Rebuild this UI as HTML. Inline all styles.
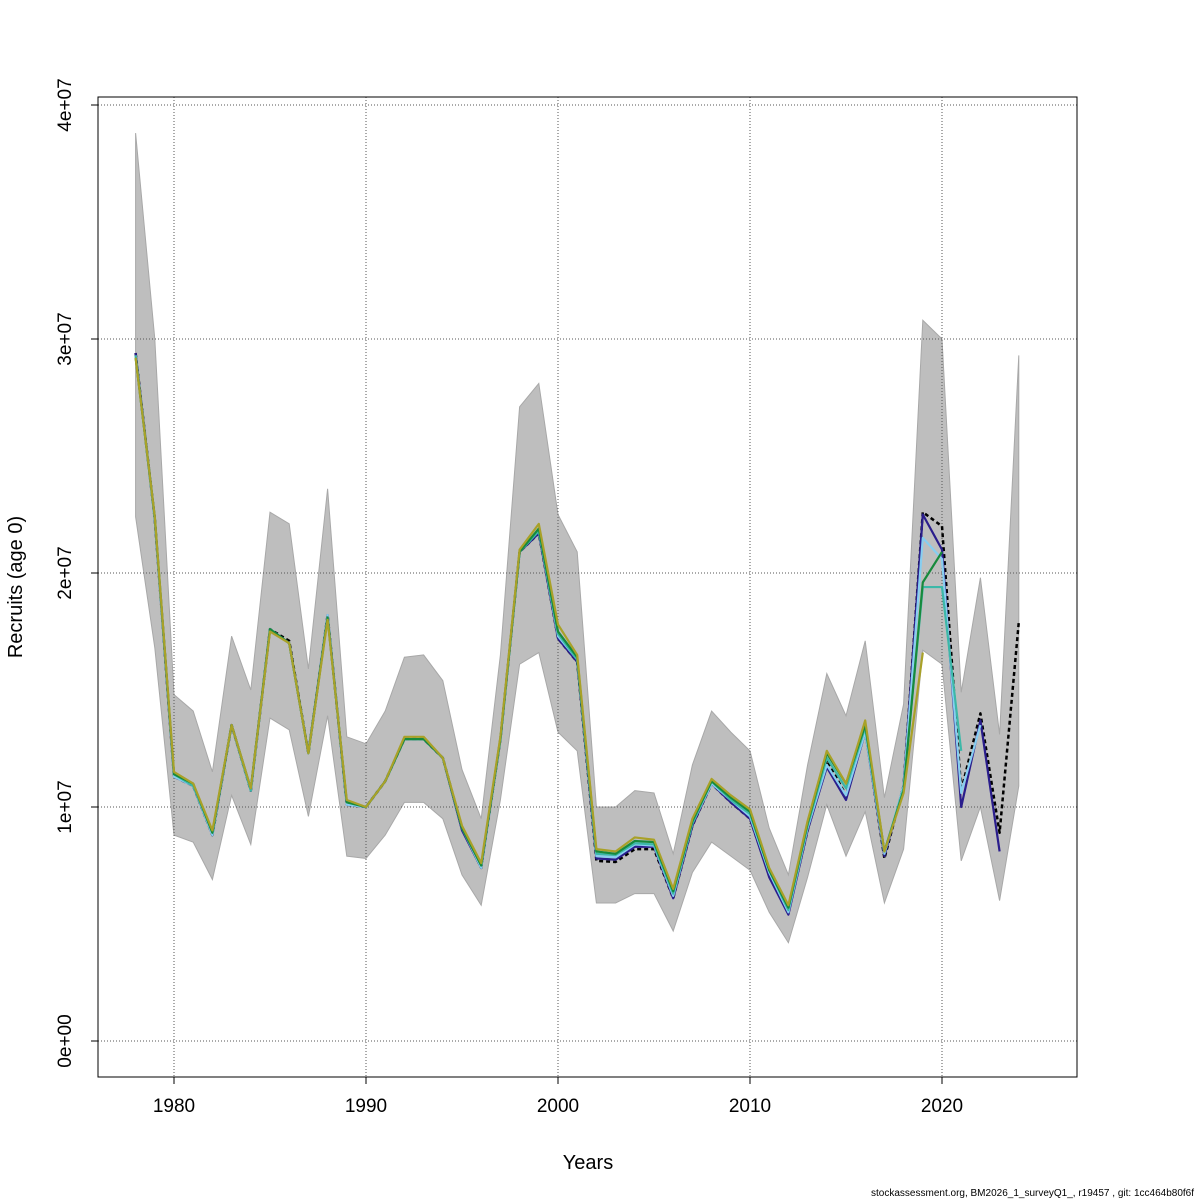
<!DOCTYPE html>
<html><head><meta charset="utf-8"><style>
body{margin:0;background:#fff;}
svg{display:block;font-family:"Liberation Sans",sans-serif;}
</style></head><body>
<svg id="chart" width="1200" height="1200" viewBox="0 0 1200 1200">
<rect x="0" y="0" width="1200" height="1200" fill="#fff"/>
<g id="band"></g>
<g id="grid"></g>
<g id="lines"></g>
<rect x="98" y="97" width="979" height="980" fill="none" stroke="#000" stroke-width="1"/>
<g id="axes"></g>
<text x="588" y="1169" font-size="20" text-anchor="middle">Years</text>
<text x="22" y="587" font-size="20" text-anchor="middle" transform="rotate(-90 22 587)">Recruits (age 0)</text>
<text x="1194" y="1196" font-size="10" text-anchor="end">stockassessment.org, BM2026_1_surveyQ1_, r19457 , git: 1cc464b80f6f</text>
</svg>
<script>
const years = [1978,1979,1980,1981,1982,1983,1984,1985,1986,1987,1988,1989,1990,1991,1992,1993,1994,1995,1996,1997,1998,1999,2000,2001,2002,2003,2004,2005,2006,2007,2008,2009,2010,2011,2012,2013,2014,2015,2016,2017,2018,2019,2020,2021,2022,2023,2024];
const estimate = [29.4,22.3,11.3,10.9,8.8,13.5,10.7,17.6,17.1,12.3,18.2,10.1,10.0,11.1,12.9,12.9,12.1,9.1,7.4,12.9,20.9,21.7,17.2,16.2,7.7,7.65,8.2,8.2,6.1,9.2,11.0,10.2,9.5,7.1,5.5,9.0,12.0,10.5,13.3,7.8,10.9,22.6,22.0,10.7,14.0,8.9,17.9];
const upper = [38.8,30.0,14.8,14.1,11.5,17.3,15.0,22.6,22.1,15.9,23.6,13.0,12.7,14.1,16.4,16.5,15.4,11.6,9.5,16.5,27.1,28.1,22.5,20.9,10.0,10.0,10.7,10.6,8.0,11.8,14.1,13.2,12.4,9.1,7.1,11.8,15.7,13.9,17.1,10.4,14.4,30.8,30.0,14.9,19.8,13.1,29.3];
const lower = [22.4,16.8,8.8,8.5,6.9,10.5,8.4,13.8,13.3,9.6,13.9,7.9,7.8,8.8,10.2,10.2,9.5,7.1,5.8,10.3,16.1,16.6,13.2,12.4,5.9,5.9,6.3,6.3,4.7,7.2,8.5,7.9,7.3,5.5,4.2,7.0,10.1,7.9,9.8,5.9,8.2,16.7,16.1,7.7,10.0,6.0,10.9];
const retro1 = [29.4,22.3,11.3,10.9,8.8,13.5,10.7,17.6,17.0,12.3,18.2,10.1,10.0,11.1,12.9,12.9,12.1,9.0,7.4,12.9,20.9,21.7,17.2,16.2,7.8,7.75,8.3,8.3,6.1,9.2,11.0,10.2,9.5,7.0,5.4,9.0,11.7,10.3,13.2,7.9,10.9,22.5,21.0,10.0,13.7,8.1];
const retro2 = [29.3,22.3,11.3,10.9,8.8,13.5,10.7,17.6,17.0,12.3,18.2,10.1,10.0,11.1,12.9,12.9,12.1,9.1,7.4,12.9,20.9,21.8,17.3,16.3,7.9,7.85,8.4,8.35,6.2,9.3,11.0,10.3,9.6,7.2,5.5,9.1,11.8,10.5,13.2,8.0,10.9,21.5,20.6,10.6,13.5];
const retro3 = [29.3,22.3,11.4,10.9,8.9,13.5,10.7,17.6,17.0,12.3,18.1,10.2,10.0,11.1,12.9,12.9,12.1,9.1,7.5,12.9,20.9,21.8,17.4,16.3,8.0,7.95,8.45,8.4,6.3,9.3,11.1,10.3,9.7,7.3,5.6,9.2,12.1,10.8,13.4,8.1,10.8,19.4,19.4,12.4];
const retro4 = [29.2,22.4,11.4,11.0,8.9,13.5,10.8,17.6,17.0,12.3,18.1,10.2,10.0,11.1,12.9,12.9,12.1,9.1,7.5,12.9,20.9,21.9,17.5,16.4,8.1,8.0,8.55,8.5,6.4,9.4,11.1,10.4,9.8,7.3,5.7,9.3,12.3,11.0,13.5,8.1,10.7,19.6,20.9];
const retro5 = [29.2,22.4,11.5,11.0,9.0,13.5,10.8,17.5,17.0,12.3,18.0,10.3,10.0,11.1,13.0,13.0,12.1,9.2,7.6,13.0,21.0,22.1,17.8,16.5,8.2,8.1,8.7,8.6,6.5,9.5,11.2,10.5,9.9,7.4,5.8,9.4,12.4,11.0,13.7,8.1,10.6,16.6];

const X = y => 174 + (y - 1980) * 19.2;
const Y = v => 1041 - v * 23.4;
const NS = "http://www.w3.org/2000/svg";
function mk(tag, parent, attrs){const e=document.createElementNS(NS,tag);for(const k in attrs)e.setAttribute(k,attrs[k]);parent.appendChild(e);return e;}

const grid=document.getElementById('grid');
const axes=document.getElementById('axes');
const xTicks=[1980,1990,2000,2010,2020];
const yTicks=[0,10,20,30,40];
const yTickLabels=["0e+00","1e+07","2e+07","3e+07","4e+07"];
xTicks.forEach(t=>{
  const l=mk('line',grid,{x1:X(t),x2:X(t),y1:97,y2:1077,stroke:'#555','stroke-width':1,'stroke-dasharray':'1,2'});
  
  
  const tk=mk('line',axes,{x1:X(t),x2:X(t),y1:1077,y2:1084,stroke:'#000'});
  
  
  const tx=mk('text',axes,{x:X(t),y:1112,'font-size':19,'text-anchor':'middle'});
  tx.textContent=t;
  
  
});
yTicks.forEach((t,i)=>{
  const l=mk('line',grid,{x1:98,x2:1077,y1:Y(t),y2:Y(t),stroke:'#555','stroke-width':1,'stroke-dasharray':'1,2'});
  
  
  const tk=mk('line',axes,{x1:91,x2:98,y1:Y(t),y2:Y(t),stroke:'#000'});
  
  
  const tx=mk('text',axes,{x:71,y:Y(t),'font-size':19,'text-anchor':'middle',transform:`rotate(-90 71 ${Y(t)})`});
  tx.textContent=yTickLabels[i];
  
  
});

const band=document.getElementById('band');
let pts=years.map((y,i)=>X(y)+','+Y(upper[i]));
for(let i=years.length-1;i>=0;i--)pts.push(X(years[i])+','+Y(lower[i]));
const poly=mk('polygon',band,{points:pts.join(' '),fill:'#bebebe',stroke:'#a8a8a8','stroke-width':1});



const lines=document.getElementById('lines');
function drawLine(vals,color,name,dash,w){
  const p=vals.map((v,i)=>X(years[i])+','+Y(v)).join(' ');
  const a={points:p,fill:'none',stroke:color,'stroke-width':w,'stroke-linejoin':'round'};
  if(dash)a['stroke-dasharray']=dash;
  const e=mk('polyline',lines,a);
  
  
}
drawLine(estimate,'#000000','estimate-line','4,3',2.5);
drawLine(retro1,'#2a1d8c','retro-line-2023',null,2.2);
drawLine(retro2,'#87cef0','retro-line-2022',null,2.2);
drawLine(retro3,'#3cb8a8','retro-line-2021',null,2.2);
drawLine(retro4,'#178a3c','retro-line-2020',null,2.2);
drawLine(retro5,'#a9a128','retro-line-2019',null,2.2);
</script>
</body></html>
